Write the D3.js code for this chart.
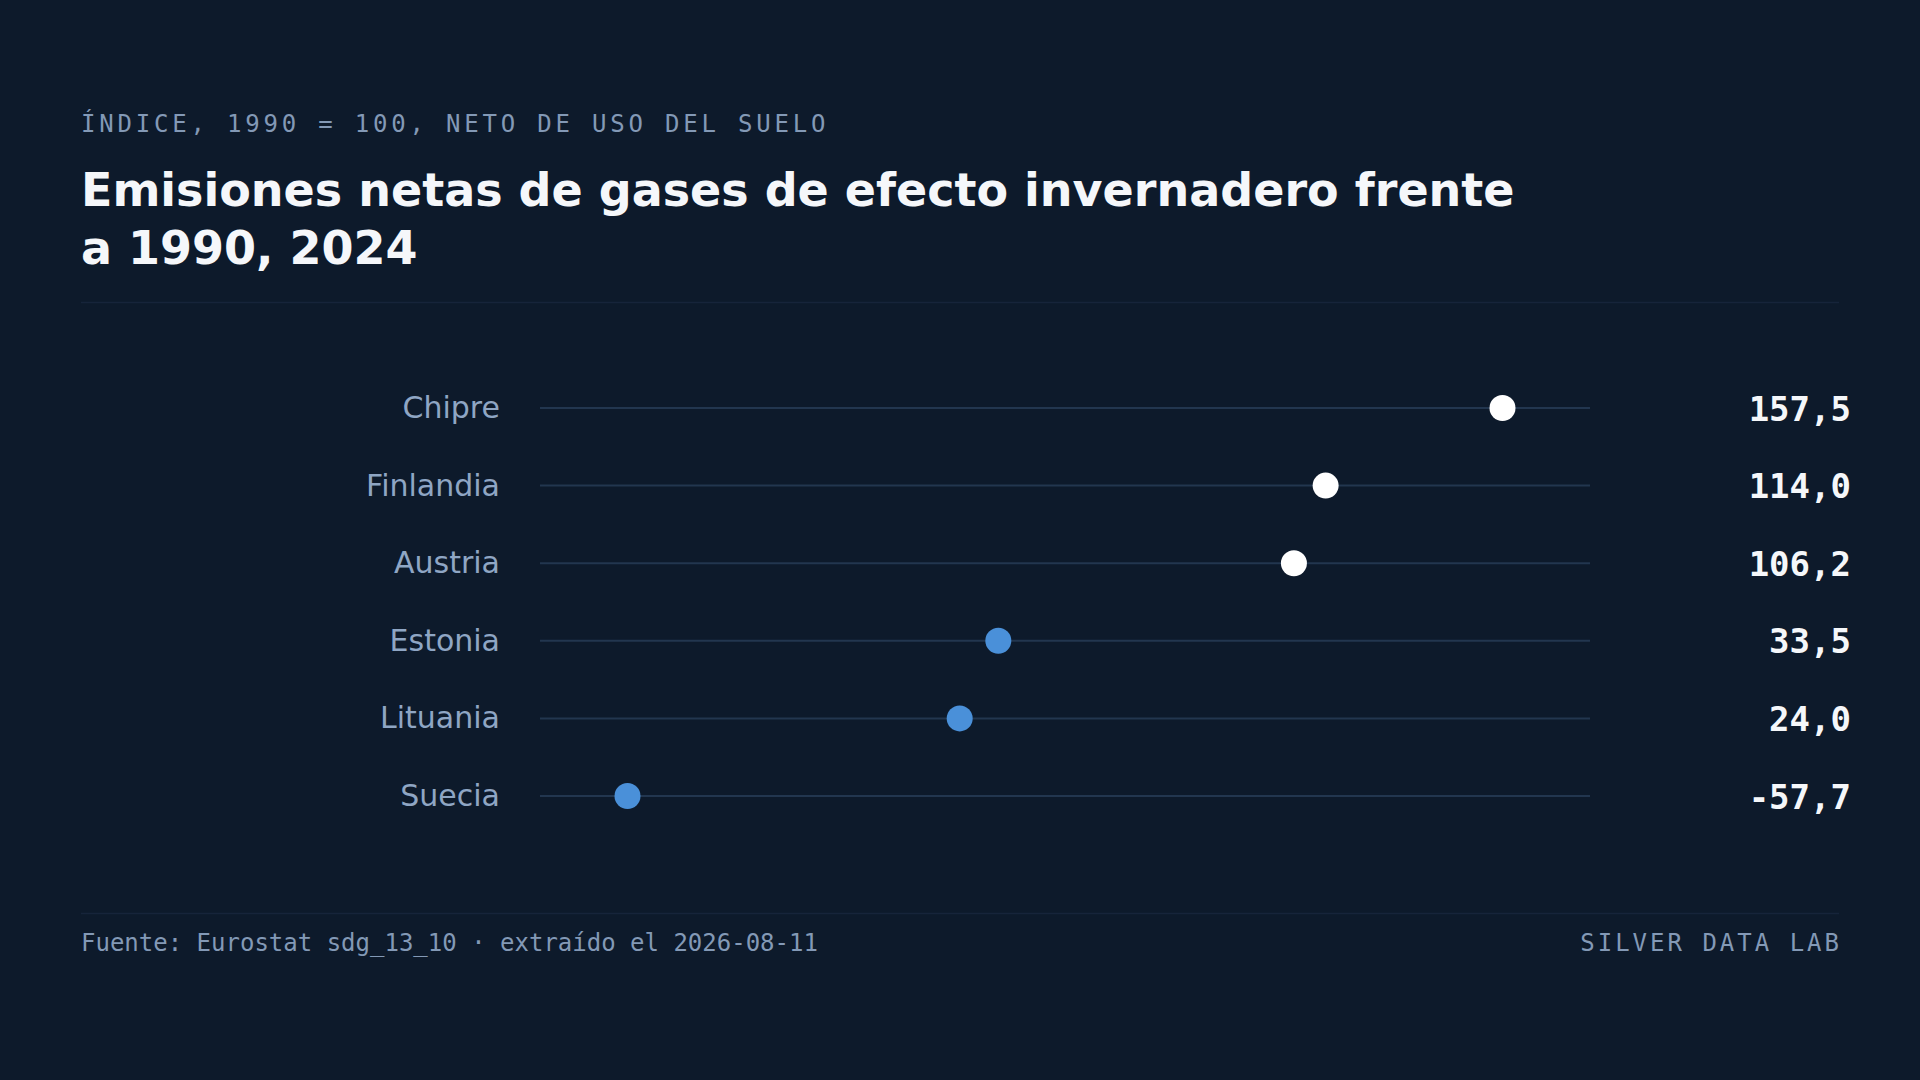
<!DOCTYPE html>
<meta charset="utf-8">
<style>
  html, body { margin: 0; padding: 0; background: #0d1a2b; }
  svg { display: block; }
  .sans { font-family: "DejaVu Sans", sans-serif; }
  .mono { font-family: "DejaVu Sans Mono", monospace; }
</style>
<body>
<svg id="chart" width="1920" height="1080"></svg>
</body>
<script src="https://cdnjs.cloudflare.com/ajax/libs/d3/7.8.5/d3.min.js"></script>
<script>
  const countries = ['Chipre', 'Finlandia', 'Austria', 'Estonia', 'Lituania', 'Suecia']
  const values = [157.5, 114.0, 106.2, 33.5, 24.0, -57.7]
  const titleLines = ['Emisiones netas de gases de efecto invernadero frente', 'a 1990, 2024']
  const subtitle = 'ÍNDICE, 1990 = 100, NETO DE USO DEL SUELO'
  const source = 'Fuente: Eurostat sdg_13_10 · extraído el 2026-08-11'
  const brand = 'SILVER DATA LAB'
  const baseline = 100

  const [ width, height ] = [ 1920, 1080 ]
  const left = 81, right = 1839

  const svg = d3.select('#chart')

  svg.append('rect')
      .attr('width', width)
      .attr('height', height)
      .attr('fill', '#0d1a2b')

  // header
  svg.append('text')
      .attr('class', 'mono')
      .attr('x', left)
      .attr('y', 132)
      .attr('fill', '#8399b6')
      .attr('font-size', 24)
      .attr('letter-spacing', '3.8px')
      .text(subtitle)

  svg.append('text')
      .attr('class', 'sans')
      .attr('x', left)
      .attr('y', 206)
      .attr('fill', '#f5f7fa')
      .attr('font-size', 46)
      .attr('font-weight', 'bold')
    .selectAll('tspan')
      .data(titleLines)
    .enter().append('tspan')
      .attr('x', left)
      .attr('dy', (d, i) => i ? 58 : 0)
      .text(d => d)

  svg.append('line')
      .attr('x1', left).attr('x2', right)
      .attr('y1', 302.5).attr('y2', 302.5)
      .attr('stroke', '#16243a')
      .attr('stroke-width', 1.5)

  // scales
  const ext = d3.extent(values)
  const pad = (ext[1] - ext[0]) * 0.1
  const x = d3.scaleLinear()
    .domain([ext[0] - pad, ext[1] + pad])
    .range([540, 1590])

  const y = d3.scalePoint()
    .domain(countries)
    .range([408, 796])

  const fmt = v => d3.format('.1f')(v).replace('.', ',').replace('−', '-')

  const rows = svg.selectAll('g.row')
      .data(countries.map((c, i) => ({ name: c, value: values[i] })))
    .enter().append('g')
      .attr('class', 'row')
      .attr('transform', d => `translate(0, ${y(d.name)})`)

  rows.append('line')
      .attr('x1', x.range()[0])
      .attr('x2', x.range()[1])
      .attr('stroke', '#22364f')
      .attr('stroke-width', 2)

  rows.append('text')
      .attr('class', 'sans')
      .attr('x', 500)
      .attr('dy', '0.33em')
      .attr('text-anchor', 'end')
      .attr('fill', '#8fa6c4')
      .attr('font-size', 30)
      .text(d => d.name)

  rows.append('circle')
      .attr('cx', d => x(d.value))
      .attr('r', 13)
      .attr('fill', d => d.value > baseline ? '#ffffff' : '#4a90d9')

  rows.append('text')
      .attr('class', 'mono')
      .attr('x', 1851)
      .attr('dy', '0.37em')
      .attr('text-anchor', 'end')
      .attr('fill', '#f5f7fa')
      .attr('font-size', 34)
      .attr('font-weight', 'bold')
      .text(d => fmt(d.value))

  // footer
  svg.append('line')
      .attr('x1', left).attr('x2', right)
      .attr('y1', 913.5).attr('y2', 913.5)
      .attr('stroke', '#16243a')
      .attr('stroke-width', 1.5)

  svg.append('text')
      .attr('class', 'mono')
      .attr('x', left)
      .attr('y', 951)
      .attr('fill', '#8399b6')
      .attr('font-size', 24)
      .text(source)

  svg.append('text')
      .attr('class', 'mono')
      .attr('x', right + 3)
      .attr('y', 951)
      .attr('text-anchor', 'end')
      .attr('fill', '#8399b6')
      .attr('font-size', 24)
      .attr('letter-spacing', '3px')
      .text(brand)
</script>
